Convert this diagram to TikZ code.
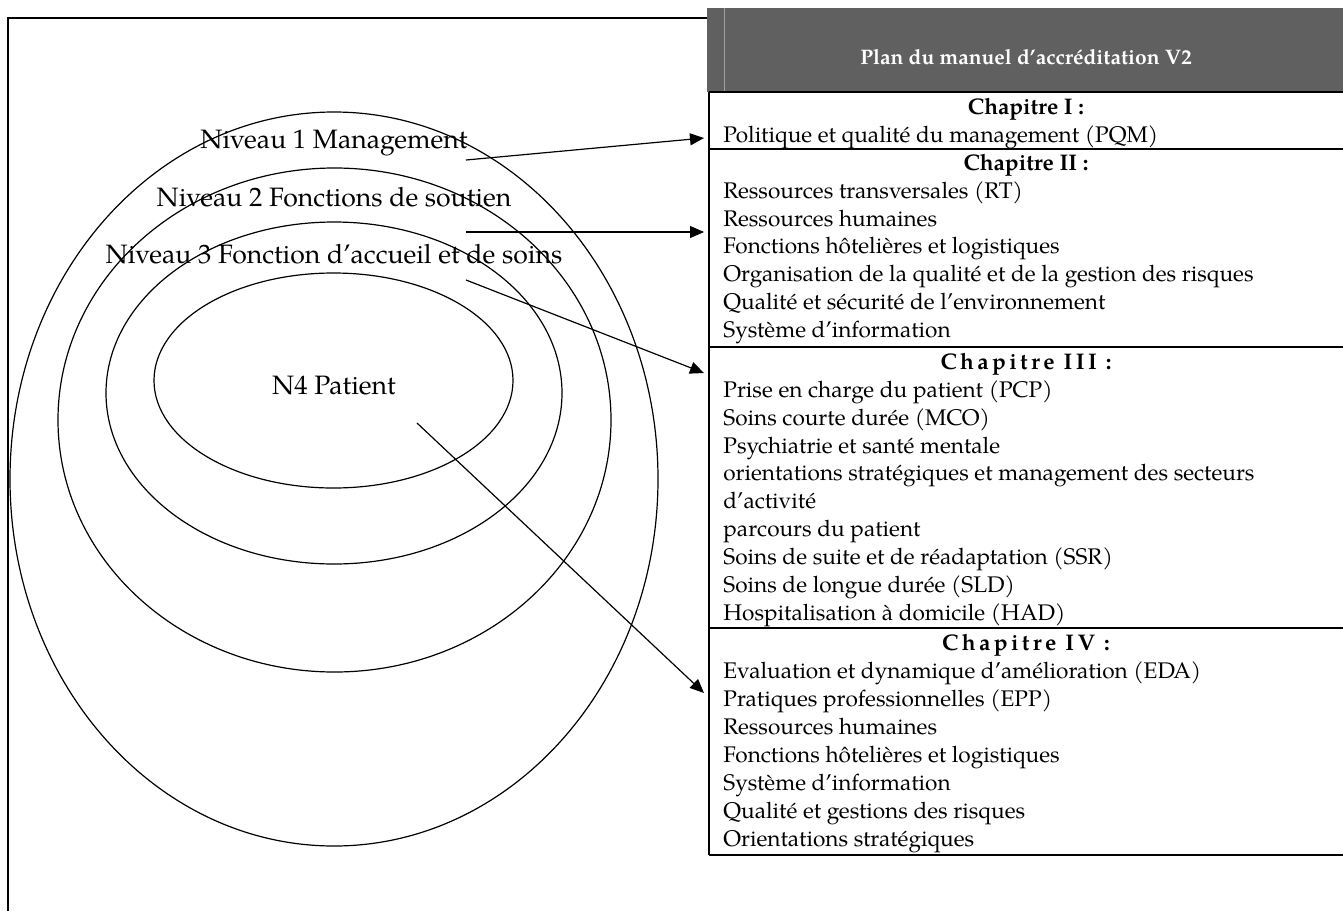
\documentclass[tikz,border=0pt]{standalone}
\usepackage{fontspec}
\setmainfont{TeX Gyre Pagella}
\usetikzlibrary{arrows.meta}
\definecolor{hdr}{HTML}{606060}
\begin{document}
\begin{tikzpicture}[x=0.5pt,y=-0.5pt,
  ell/.style={draw, line width=0.6pt},
  lvl/.style={font=\fontsize{13.3}{15}\selectfont, inner sep=0pt, anchor=base},
  row/.style={font=\fontsize{11.3}{13}\selectfont, inner sep=0pt, anchor=base west},
  chap/.style={font=\fontsize{11.3}{13}\selectfont\bfseries, inner sep=0pt, anchor=base},
  chapsp/.style={font=\fontsize{11.3}{13}\selectfont\bfseries\addfontfeature{LetterSpace=15}, inner sep=0pt, anchor=base},
  rule/.style={line width=1pt},
  frame/.style={line width=0.7pt},
  arr/.style={-{Triangle[length=7pt,width=6pt]}, line width=0.6pt}
]
\useasboundingbox (0,0) rectangle (1343,911);

% outer frame
\draw[frame] (8,911) -- (8,18) -- (708,18);

% ellipses
\draw[ell] (334,479) ellipse [x radius=324, y radius=367];
\draw[ell] (334.5,420) ellipse [x radius=276.5, y radius=252];
\draw[ell] (334,393) ellipse [x radius=228, y radius=171];
\draw[ell] (333.5,380.5) ellipse [x radius=179.5, y radius=107.5];

% level labels
\node[lvl] (n1) at (334,148) {Niveau 1 Management};
\node[lvl] (n2) at (334,206) {Niveau 2 Fonctions de soutien};
\node[lvl] (n3) at (334,263) {Niveau 3 Fonction d’accueil et de soins};
\node[lvl] (n4) at (334,394) {N4 Patient};

% header
\fill[hdr] (707,8) rectangle (1343,92);
\draw[gray!75, line width=0.4pt] (724,8) -- (724,92);
\node[font=\fontsize{10.5}{12}\selectfont\bfseries, text=white, inner sep=0pt] (title) at (1026,57) {Plan du manuel d’accréditation V2};

% table rules
\draw[rule] (709,92) -- (1343,92);
\draw[rule] (709,149) -- (1343,149);
\draw[rule] (709,347) -- (1343,347);
\draw[rule] (709,628) -- (1343,628);
\draw[rule] (709,855) -- (1343,855);
\draw[rule] (709,92) -- (709,855);

% chapter I
\node[chap] (c1) at (1026,114) {Chapitre I :};
\node[row] (c1a) at (723,142) {Politique et qualité du management (PQM)};

% chapter II
\node[chap] (c2) at (1026,170) {Chapitre II :};
\node[row] (c2a) at (723,198) {Ressources transversales (RT)};
\node[row] (c2b) at (723,226) {Ressources humaines};
\node[row] (c2c) at (723,253) {Fonctions hôtelières et logistiques};
\node[row] (c2d) at (723,281) {Organisation de la qualité et de la gestion des risques};
\node[row] (c2e) at (723,309) {Qualité et sécurité de l’environnement};
\node[row] (c2f) at (723,337) {Système d’information};

% chapter III
\node[chapsp] (c3) at (1026,369) {Chapitre III :};
\node[row] (c3a) at (723,397) {Prise en charge du patient (PCP)};
\node[row] (c3b) at (723,425) {Soins courte durée (MCO)};
\node[row] (c3c) at (723,453) {Psychiatrie et santé mentale};
\node[row] (c3d) at (723,480) {orientations stratégiques et management des secteurs};
\node[row] (c3e) at (723,508) {d’activité};
\node[row] (c3f) at (723,536) {parcours du patient};
\node[row] (c3g) at (723,564) {Soins de suite et de réadaptation (SSR)};
\node[row] (c3h) at (723,592) {Soins de longue durée (SLD)};
\node[row] (c3i) at (723,620) {Hospitalisation à domicile (HAD)};

% chapter IV
\node[chapsp] (c4) at (1026,650) {Chapitre IV :};
\node[row] (c4a) at (723,678) {Evaluation et dynamique d’amélioration (EDA)};
\node[row] (c4b) at (723,706) {Pratiques professionnelles (EPP)};
\node[row] (c4c) at (723,734) {Ressources humaines};
\node[row] (c4d) at (723,762) {Fonctions hôtelières et logistiques};
\node[row] (c4e) at (723,790) {Système d’information};
\node[row] (c4f) at (723,818) {Qualité et gestions des risques};
\node[row] (c4g) at (723,846) {Orientations stratégiques};

% arrows
\coordinate (s1) at (466,160); \coordinate (t1) at (704,138);
\coordinate (s2) at (466,232); \coordinate (t2) at (704,232);
\coordinate (s3) at (466,280); \coordinate (t3) at (704,373);
\coordinate (s4) at (417,423); \coordinate (t4) at (704,693);
\draw[arr] (s1) -- (t1);
\draw[arr] (s2) -- (t2);
\draw[arr] (s3) -- (t3);
\draw[arr] (s4) -- (t4);
\end{tikzpicture}
\end{document}
